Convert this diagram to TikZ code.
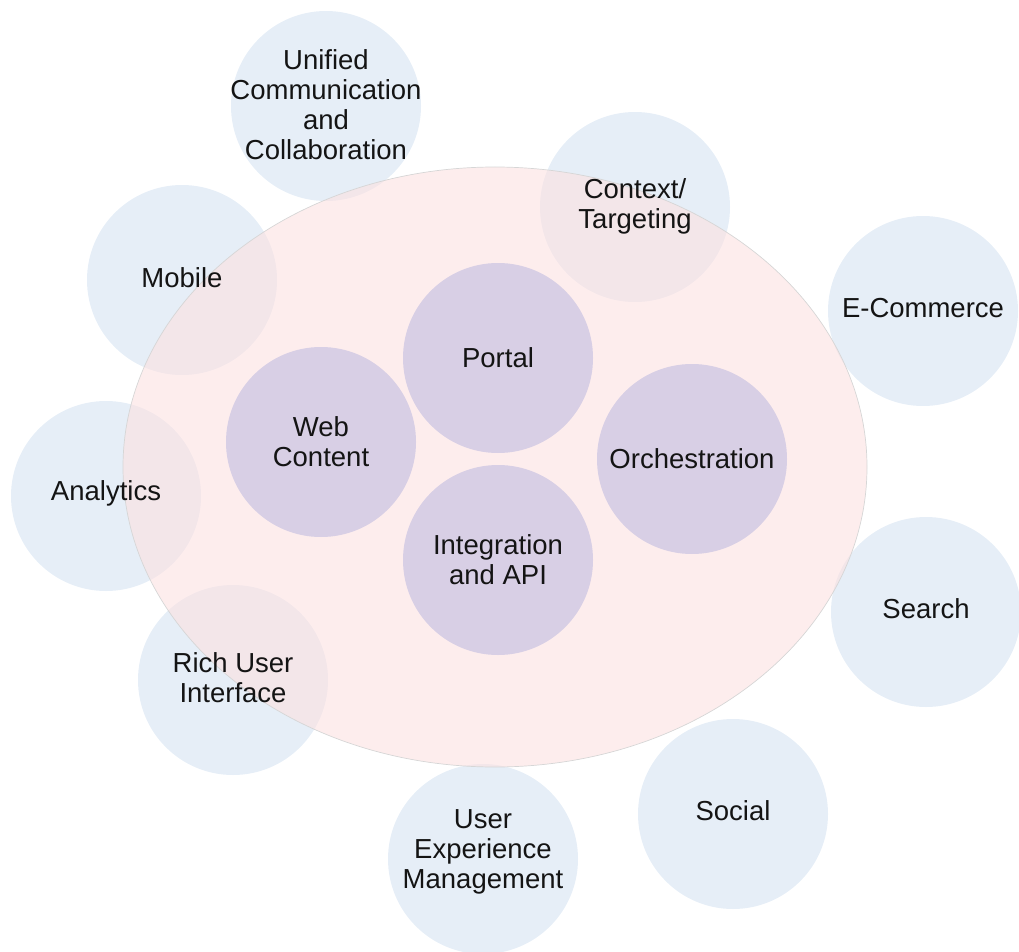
\documentclass[tikz,border=0pt]{standalone}
\usepackage{fontspec}
\setmainfont{Liberation Sans}
\usepackage{xcolor}
\usepackage{tikz}
\definecolor{outerblue}{RGB}{230,238,247}
\definecolor{ringpink}{RGB}{252,225,225}
\definecolor{corepurple}{RGB}{216,207,229}
\definecolor{labelgray}{RGB}{20,20,20}
\pgfdeclarelayer{back}
\pgfdeclarelayer{ring}
\pgfsetlayers{back,ring,main}

\begin{document}
\begin{tikzpicture}[x=1pt,y=-1pt,font=\fontsize{27.5}{30}\selectfont,
  bubble/.style={circle,minimum size=190pt,inner sep=0pt,align=center,text=labelgray},
  core/.style={bubble,fill=corepurple}]
  \useasboundingbox (0,0) rectangle (1019,952);
  % outer capabilities: label at (x,y), disc sits \d below it on the back layer
  \foreach \n/\x/\y/\d/\t in
    {ucc/326/105/1/{Unified\\Communication\\and\\Collaboration},
     context/635/206/1/{Context/\\Targeting},
     mobile/182/278/2/Mobile, ecommerce/923/308/3/E-Commerce,
     analytics/106/493/3/Analytics, search/926/609/3/Search,
     richui/233/678/2/{Rich User\\Interface}, social/733/811/3/Social,
     uxm/483/852/7/{User\\Experience\\Management}} {
    \node[bubble] (\n) at (\x,\y) {\t};
    \begin{pgfonlayer}{back}
      \fill[outerblue] ([yshift=-\d pt]\n.center) circle[radius=95pt];
    \end{pgfonlayer}
  }
  % translucent platform ring
  \begin{pgfonlayer}{ring}
    \coordinate (platform) at (495,467);
    \draw[fill=ringpink,fill opacity=0.6,draw=black!16,line width=0.7pt]
      (platform) ellipse[x radius=372pt,y radius=300pt];
  \end{pgfonlayer}
  % core services
  \node[core] (portal) at (498,358) {Portal};
  \node[core] (webcontent) at (321,442) {Web\\Content};
  \node[core] (orchestration) at (692,459) {Orchestration};
  \node[core] (integration) at (498,560) {Integration\\and API};
\end{tikzpicture}
\end{document}
